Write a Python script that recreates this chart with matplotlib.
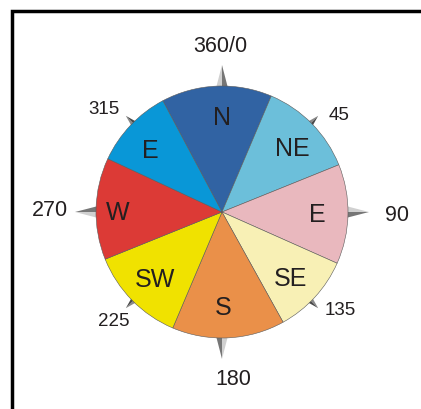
import numpy as np
import matplotlib
matplotlib.use("Agg")
import matplotlib.pyplot as plt
from matplotlib.patches import Wedge, Polygon

# sector edges (compass degrees, clockwise from north)
sector_start = [332, 23, 68, 114, 151, 203, 248, 295]
sector_end = [23, 68, 114, 151, 203, 248, 295, 332]
sector_labels = ["N", "NE", "E", "SE", "S", "SW", "W", "E"]
sector_label_dir = [0, 48, 91, 134, 179, 225, 270, 311]
sector_colors = ["#3163a3", "#6cbfda", "#e9b8be", "#f8f0b5",
                 "#ea9049", "#f0e200", "#dc3a36", "#0997d7"]

# direction ticks around the rose
tick_dirs = [0, 45, 90, 135, 180, 225, 270, 315]
tick_labels = ["360/0", "45", "90", "135", "180", "225", "270", "315"]

W, H = 421, 410
cx, cy = 222, H - 213
R = 126


def pt(bearing, r):
    a = np.deg2rad(90 - bearing)
    return cx + r * np.cos(a), cy + r * np.sin(a)


fig = plt.figure(figsize=(W / 100, H / 100), dpi=100)
ax = fig.add_axes([0, 0, 1, 1])
ax.set_xlim(0, W)
ax.set_ylim(0, H)
ax.set_aspect("equal")
ax.axis("off")

# frame lines (top and left only)
ax.plot([11.5, 11.5, W], [0, H - 11.5, H - 11.5], color="black", lw=2.5,
        solid_joinstyle="miter", solid_capstyle="butt")

# compass pointers behind the disc
for d in tick_dirs:
    cardinal = d % 90 == 0
    tip_r = 147 if cardinal else 136
    half = 7 if cardinal else 4.5
    base_r = 120
    tip = pt(d, tip_r)
    base = pt(d, base_r)
    a = np.deg2rad(90 - d)
    nx, ny = -np.sin(a), np.cos(a)
    left = (base[0] + nx * half, base[1] + ny * half)
    right = (base[0] - nx * half, base[1] - ny * half)
    light, dark = ("#d0d0d0", "#767676") if cardinal else ("#8a8a8a", "#4a4a4a")
    ax.add_patch(Polygon([tip, base, left], closed=True, fc=light,
                         ec="none", zorder=1))
    ax.add_patch(Polygon([tip, base, right], closed=True, fc=dark,
                         ec="none", zorder=1))

# sectors
for s, e, c in zip(sector_start, sector_end, sector_colors):
    ax.add_patch(Wedge((cx, cy), R, 90 - e, 90 - s, fc=c,
                       ec="#5a5a5a", lw=0.4, zorder=2))

for lab, d in zip(sector_labels, sector_label_dir):
    r = 104 if lab == "W" else 95
    x, y = pt(d, r)
    ax.text(x, y, lab, ha="center", va="center", fontsize=18,
            family="Liberation Sans", color="#231f20", zorder=3)

# degree labels
tick_pos = [(220, 47), (339, 115), (397, 216), (340, 311),
            (233, 380), (114, 322), (50, 211), (104, 110)]
for lab, d, (x, y) in zip(tick_labels, tick_dirs, tick_pos):
    size = 15.5 if d % 90 == 0 else 13.5
    ax.text(x, H - y, lab, ha="center", va="center", fontsize=size,
            family="Liberation Sans", color="#231f20")

fig.savefig("out.png", dpi=100)
